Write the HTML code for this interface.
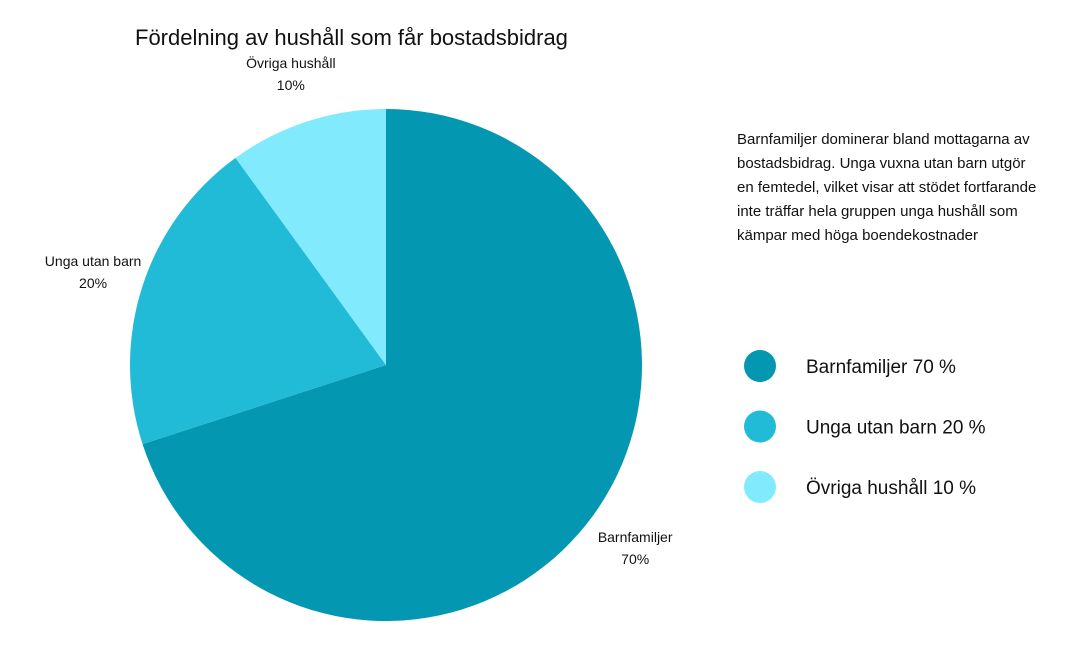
<!DOCTYPE html>
<html><head><meta charset="utf-8"><style>
body{margin:0;background:#fff;width:1080px;height:660px;overflow:hidden;font-family:"Liberation Sans","DejaVu Sans",sans-serif;color:#111}
svg{position:absolute;left:0;top:0}
.desc{position:absolute;left:737px;top:128px;width:300px;font-size:15px;line-height:24px;color:#111}
</style></head><body>
<svg width="1080" height="660">
<text x="135" y="45" font-size="22" fill="#111">Fördelning av hushåll som får bostadsbidrag</text>
<g id="slices"></g><g id="labels"></g><g id="legend"></g>
</svg>
<div class="desc">Barnfamiljer dominerar bland mottagarna av bostadsbidrag. Unga vuxna utan barn utgör en femtedel, vilket visar att stödet fortfarande inte träffar hela gruppen unga hushåll som kämpar med höga boendekostnader</div>
<script>
const categories=["Barnfamiljer","Unga utan barn","Övriga hushåll"];
const values=[70,20,10];
const colors=["#0397b1","#22bbd7","#82eafd"];
const NS="http://www.w3.org/2000/svg";
const cx=386,cy=365,r=256;
const total=values.reduce((a,b)=>a+b,0);
const sl=document.getElementById('slices'),lb=document.getElementById('labels'),lg=document.getElementById('legend');
function pt(a,rr){return [cx+rr*Math.sin(a),cy-rr*Math.cos(a)];}
let acc=0;
values.forEach((v,i)=>{
 const a0=acc/total*2*Math.PI;acc+=v;const a1=acc/total*2*Math.PI;
 const p0=pt(a0,r),p1=pt(a1,r);
 const p=document.createElementNS(NS,'path');
 p.setAttribute('d',`M${cx},${cy}L${p0[0]},${p0[1]}A${r},${r} 0 ${a1-a0>Math.PI?1:0} 1 ${p1[0]},${p1[1]}Z`);
 p.setAttribute('fill',colors[i]);
 
 
 sl.appendChild(p);
 const am=(a0+a1)/2,lp=pt(am,r+52);
 const t=document.createElementNS(NS,'text');
 t.setAttribute('x',lp[0]);t.setAttribute('y',lp[1]-4);t.setAttribute('font-size','14');t.setAttribute('text-anchor','middle');t.setAttribute('fill','#111');
 
 
 t.innerHTML=`<tspan x="${lp[0]}">${categories[i]}</tspan><tspan x="${lp[0]}" dy="22">${v}%</tspan>`;
 lb.appendChild(t);
 const y=366+i*60.5;
 const c=document.createElementNS(NS,'circle');
 c.setAttribute('cx',760);c.setAttribute('cy',y);c.setAttribute('r',16);c.setAttribute('fill',colors[i]);
 
 
 lg.appendChild(c);
 const lt=document.createElementNS(NS,'text');
 lt.setAttribute('x',806);lt.setAttribute('y',y+7);lt.setAttribute('font-size','19');lt.setAttribute('fill','#111');
 lt.textContent=categories[i]+' '+v+' %';
 
 
 lg.appendChild(lt);
});
</script>
</body></html>
